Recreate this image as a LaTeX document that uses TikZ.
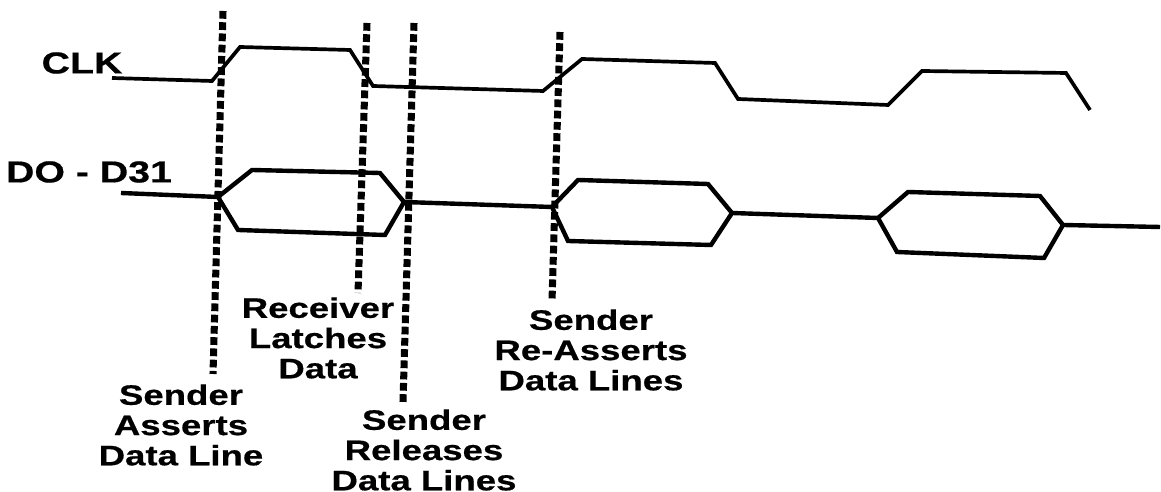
\documentclass[tikz,border=0pt]{standalone}
\usepackage{fontspec}
\newfontfamily\sigfont{Liberation Sans}[FakeStretch=1.3, FakeBold=0.6]

\begin{document}
\begin{tikzpicture}[x=0.01cm, y=-0.01cm,
    wave/.style={line width=1.05pt, line join=miter},
    bus/.style={line width=1.25pt, line join=miter},
    strobe/.style={line width=2pt, dash pattern=on 2.2pt off 1pt},
    sig/.style={font=\sigfont\bfseries\fontsize{8.6}{10}\selectfont, inner sep=0pt},
    note/.style={font=\sigfont\bfseries\fontsize{8}{8.6}\selectfont, align=center, inner sep=0pt}]

    \useasboundingbox (0,0) rectangle (1161,492);

    % signal names
    \node[sig] (clk) at (82,63) {CLK};
    \node[sig] (data) at (89,172) {DO - D31};

    % clock
    \draw[wave] (112,78) -- (212,81) -- (240,47) -- (350,50) -- (373,86)
        -- (543,91) -- (582,59) -- (715,63) -- (738,99)
        -- (888,105) -- (922,71) -- (1066,73) -- (1090,110);

    % data lines
    \draw[bus] (121,193) -- (218,197);
    \draw[bus] (218,197) -- (252,170) -- (380,173) -- (404,202) -- (385,235) -- (238,230) -- cycle;
    \draw[bus] (404,202) -- (552,207);
    \draw[bus] (552,207) -- (578,180) -- (708,184) -- (732,213) -- (711,245) -- (568,241) -- cycle;
    \draw[bus] (732,213) -- (878,218);
    \draw[bus] (878,218) -- (908,192) -- (1040,196) -- (1063,225) -- (1044,258) -- (897,252) -- cycle;
    \draw[bus] (1063,225) -- (1160,227);

    % events
    \coordinate (t1) at (223,11);  \coordinate (b1) at (213,374);
    \coordinate (t2) at (367,23);  \coordinate (b2) at (358,293);
    \coordinate (t3) at (414,23);  \coordinate (b3) at (403,402);
    \coordinate (t4) at (560,32);  \coordinate (b4) at (552,301);
    \draw[strobe] (t1) -- (b1);
    \draw[strobe] (t2) -- (b2);
    \draw[strobe] (t3) -- (b3);
    \draw[strobe] (t4) -- (b4);

    \node[note] (asserts) at (181,425) {Sender\\Asserts\\Data Line};
    \node[note] (latches) at (318,338) {Receiver\\Latches\\Data};
    \node[note] (releases) at (424,450) {Sender\\Releases\\Data Lines};
    \node[note] (reasserts) at (591,350) {Sender\\Re-Asserts\\Data Lines};
\end{tikzpicture}
\end{document}
